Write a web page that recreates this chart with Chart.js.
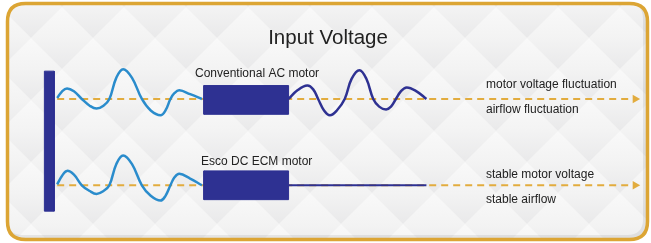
<!DOCTYPE html>
<html>
<head>
<meta charset="utf-8">
<script src="https://cdn.jsdelivr.net/npm/chart.js@4/dist/chart.umd.min.js"></script>
<style>
  html, body { margin: 0; padding: 0; background: #ffffff; }
  #wrap { width: 651px; height: 243px; }
</style>
</head>
<body>
<div id="wrap"><canvas id="c" width="651" height="243"></canvas></div>
<script>
// ---- Data (diagram units: x = position along the signal path, y = signal amplitude about each row's baseline) ----
const titleText = 'Input Voltage';
const rowLabels = ['Conventional AC motor', 'Esco DC ECM motor'];
const outputLabelsTop = ['motor voltage fluctuation', 'airflow fluctuation'];
const outputLabelsBottom = ['stable motor voltage', 'stable airflow'];

// Row 1 (conventional AC motor): fluctuating input voltage
const acInputX = [53, 58, 63, 70, 78, 86, 93, 100, 106, 113, 120, 129, 139, 148, 158, 163, 168, 172, 177, 188, 200];
const acInputY = [1, 8, 11, 8, 0, -7, -10, -7, 0, 22, 31, 22, 0, -12, -17, -12, 0, 6, 9, 5, 0];
// Row 1: fluctuating output after the motor
const acOutputX = [288, 297, 307, 313, 318, 324, 330, 337, 345, 352, 360, 367, 374, 380, 387, 392, 397, 402, 408, 418, 428];
const acOutputY = [0, 9, 14, 10, 0, -12, -17, -12, 0, 21, 30, 21, 0, -8, -11, -8, 0, 8, 12, 8, 0];

// Row 2 (Esco DC ECM motor): same kind of fluctuating input
const ecmInputX = [53, 58, 63, 70, 78, 86, 93, 100, 106, 113, 120, 129, 139, 148, 158, 163, 168, 172, 177, 188, 200];
const ecmInputY = [1, 10, 15, 11, 0, -6, -9, -6, 0, 22, 31, 22, 0, -11, -16, -11, 0, 8, 12, 7, 0];
// Row 2: stable output after the motor
const ecmOutputX = [288, 428];
const ecmOutputY = [0, 0];

// Motor blocks (x extent, amplitude extent)
const motorX = [202, 288];
const acMotorY = [-16, 14];
const ecmMotorY = [-15, 15];

// Fluctuation / airflow arrows (x extent along the baseline)
const arrowX = [53, 640];

// Input voltage supply bar (x extent, page-height extent)
const supplyX = [40, 50];
const supplyY = [69, 215];

// ---- helpers ----
const zip = (xs, ys) => xs.map((x, i) => ({ x: x, y: ys[i] }));
const rect = (xs, ys) => [
  { x: xs[0], y: ys[0] }, { x: xs[1], y: ys[0] },
  { x: xs[1], y: ys[1] }, { x: xs[0], y: ys[1] }, { x: xs[0], y: ys[0] }
];

const NAVY = '#2e3192';
const LIGHTBLUE = '#2a8ccc';
const GOLD = '#e2ac3e';

function arrowDataset(axis) {
  return {
    data: arrowX.map(x => ({ x: x, y: 0 })),
    yAxisID: axis,
    borderColor: GOLD,
    borderWidth: 2,
    borderDash: [7, 5],
    pointRadius: (c) => c.dataIndex === arrowX.length - 1 ? 5 : 0,
    pointStyle: 'triangle',
    rotation: 90,
    pointBackgroundColor: GOLD,
    pointBorderColor: GOLD,
    pointBorderWidth: 0,
    fill: false,
    order: 10
  };
}
function waveDataset(xs, ys, axis, color) {
  return {
    data: zip(xs, ys),
    yAxisID: axis,
    borderColor: color,
    borderWidth: 2.5,
    pointRadius: 0,
    tension: 0.4,
    fill: false,
    order: 5
  };
}
function blockDataset(xs, ys, axis) {
  return {
    data: rect(xs, ys),
    yAxisID: axis,
    borderColor: NAVY,
    backgroundColor: NAVY,
    borderWidth: 1,
    pointRadius: 0,
    tension: 0,
    fill: 'shape',
    order: 1
  };
}

// ---- background / frame plugin ----
function roundRect(ctx, x, y, w, h, r) {
  ctx.beginPath();
  ctx.moveTo(x + r, y);
  ctx.lineTo(x + w - r, y);
  ctx.quadraticCurveTo(x + w, y, x + w, y + r);
  ctx.lineTo(x + w, y + h - r);
  ctx.quadraticCurveTo(x + w, y + h, x + w - r, y + h);
  ctx.lineTo(x + r, y + h);
  ctx.quadraticCurveTo(x, y + h, x, y + h - r);
  ctx.lineTo(x, y + r);
  ctx.quadraticCurveTo(x, y, x + r, y);
  ctx.closePath();
}
const frame = { x: 7.5, y: 3.5, w: 640, h: 236, r: 18 };

const backdrop = {
  id: 'backdrop',
  beforeDraw(chart) {
    const ctx = chart.ctx;
    ctx.save();
    ctx.fillStyle = '#ffffff';
    ctx.fillRect(0, 0, chart.width, chart.height);
    roundRect(ctx, frame.x, frame.y, frame.w, frame.h, frame.r);
    ctx.clip();
    ctx.fillStyle = '#f0f0f0';
    ctx.fillRect(0, 0, chart.width, chart.height);
    const P = 62, H = 31;
    for (let j = -4; j < 14; j++) {
      const cy = 7 + j * H;
      const off = (j % 2 === 0) ? 0 : H;
      for (let k = -10; k < 14; k++) {
        const cx = 558 - 31 + off + k * P;
        const g = ctx.createLinearGradient(cx, cy - H, cx, cy + H);
        g.addColorStop(0, '#f9f9f9');
        g.addColorStop(0.5, '#f3f3f3');
        g.addColorStop(1, '#e9e9ea');
        ctx.fillStyle = g;
        ctx.beginPath();
        ctx.moveTo(cx, cy - H);
        ctx.lineTo(cx + H, cy);
        ctx.lineTo(cx, cy + H);
        ctx.lineTo(cx - H, cy);
        ctx.closePath();
        ctx.fill();
      }
    }
    // soft inner shadow along bottom / right edges
    ctx.strokeStyle = 'rgba(0,0,0,0.07)';
    ctx.lineWidth = 4;
    roundRect(ctx, frame.x - 2.5, frame.y - 2.5, frame.w, frame.h, frame.r);
    ctx.stroke();
    ctx.restore();

    ctx.save();
    ctx.strokeStyle = '#dca534';
    ctx.lineWidth = 3.5;
    roundRect(ctx, frame.x, frame.y, frame.w, frame.h, frame.r);
    ctx.stroke();
    ctx.restore();
  },
  afterDatasetsDraw(chart) {
    const ctx = chart.ctx;
    ctx.save();
    ctx.fillStyle = '#222222';
    ctx.textBaseline = 'alphabetic';
    ctx.textAlign = 'center';
    ctx.font = '20.5px "Liberation Sans", Arial, sans-serif';
    ctx.fillText(titleText, 328, 44);
    ctx.textAlign = 'left';
    ctx.font = '12px "Liberation Sans", Arial, sans-serif';
    ctx.fillText(rowLabels[0], 195, 77);
    ctx.fillText(rowLabels[1], 201, 165);
    ctx.fillText(outputLabelsTop[0], 486, 88);
    ctx.fillText(outputLabelsTop[1], 486, 113);
    ctx.fillText(outputLabelsBottom[0], 486, 178);
    ctx.fillText(outputLabelsBottom[1], 486, 203);
    ctx.restore();
  }
};

new Chart(document.getElementById('c'), {
  type: 'line',
  data: {
    datasets: [
      arrowDataset('yA'),
      arrowDataset('yB'),
      waveDataset(acInputX, acInputY, 'yA', LIGHTBLUE),
      waveDataset(acOutputX, acOutputY, 'yA', NAVY),
      waveDataset(ecmInputX, ecmInputY, 'yB', LIGHTBLUE),
      Object.assign(waveDataset(ecmOutputX, ecmOutputY, 'yB', NAVY), { borderWidth: 2 }),
      blockDataset(motorX, acMotorY, 'yA'),
      blockDataset(motorX, ecmMotorY, 'yB'),
      {
        data: rect(supplyX, supplyY),
        yAxisID: 'y',
        borderColor: NAVY,
        backgroundColor: NAVY,
        borderWidth: 1,
        pointRadius: 0,
        tension: 0,
        fill: 'shape',
        order: 1
      }
    ]
  },
  options: {
    responsive: false,
    devicePixelRatio: 1,
    animation: false,
    events: [],
    layout: { padding: 0 },
    plugins: { legend: { display: false }, tooltip: { enabled: false }, title: { display: false } },
    scales: {
      x: { type: 'linear', min: 0, max: 651, display: false },
      y: { type: 'linear', min: 0, max: 243, reverse: true, display: false },
      yA: { type: 'linear', min: -145, max: 98, display: false },
      yB: { type: 'linear', min: -55, max: 188, display: false }
    }
  },
  plugins: [backdrop]
});
</script>
</body>
</html>
